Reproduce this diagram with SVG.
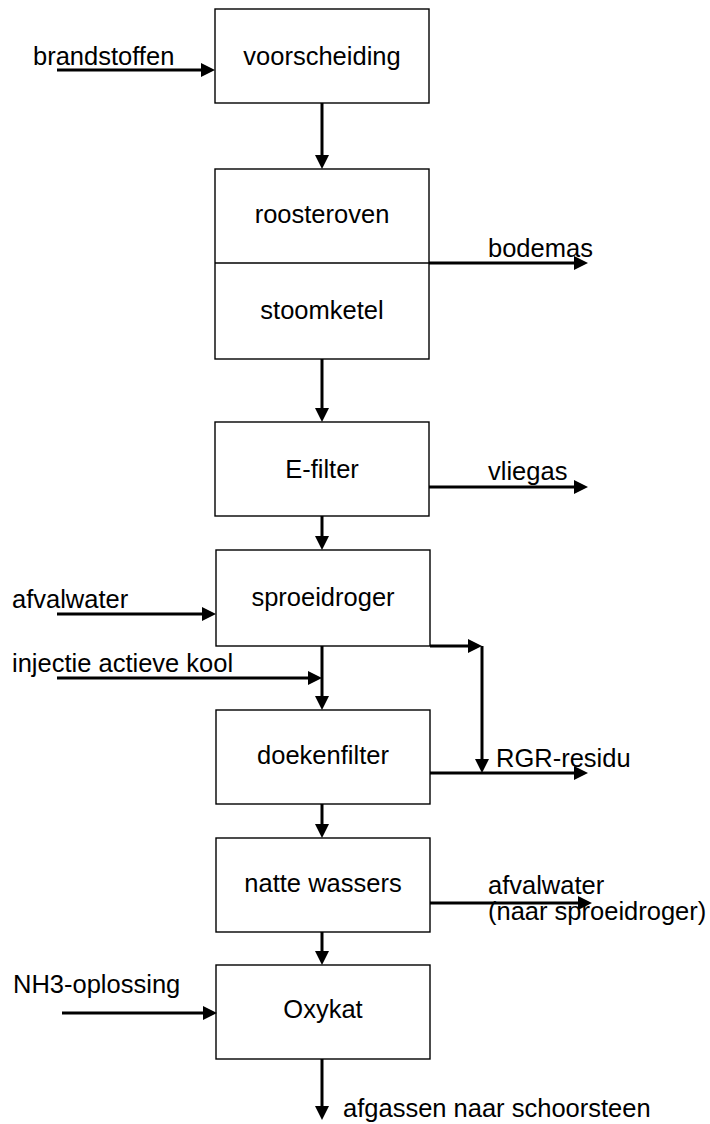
<svg xmlns="http://www.w3.org/2000/svg" width="710" height="1124" viewBox="0 0 710 1124">
<style>
  .box { fill: #ffffff; stroke: #000000; stroke-width: 1.4; }
  .lbl { font-family: "Liberation Sans", Arial, sans-serif; font-size: 25.5px; fill: #000000; }
  .mid { text-anchor: middle; }
  .con { fill: none; stroke: #000000; stroke-width: 3; stroke-linecap: butt; }
</style>
<defs>
  <marker id="ah" viewBox="0 0 14 14" markerUnits="userSpaceOnUse" markerWidth="14" markerHeight="14" refX="9" refY="7" orient="auto">
    <path d="M0,0 L14,7 L0,14 z" fill="#000000"/>
  </marker>
</defs>
<rect width="710" height="1124" fill="#ffffff"/>

<g id="voorscheiding">
  <rect class="box" x="215" y="9" width="214" height="94"/>
  <text class="lbl mid" x="322" y="65">voorscheiding</text>
</g>
<g id="roosteroven-stoomketel">
  <rect class="box" x="215" y="169" width="214" height="190"/>
  <line x1="215" y1="263" x2="429" y2="263" stroke="#000" stroke-width="1.4"/>
  <text class="lbl mid" x="322" y="223">roosteroven</text>
  <text class="lbl mid" x="322" y="319">stoomketel</text>
</g>
<g id="e-filter">
  <rect class="box" x="215" y="422" width="214" height="94"/>
  <text class="lbl mid" x="322" y="478">E-filter</text>
</g>
<g id="sproeidroger">
  <rect class="box" x="216" y="550" width="214" height="96"/>
  <text class="lbl mid" x="323" y="606">sproeidroger</text>
</g>
<g id="doekenfilter">
  <rect class="box" x="216" y="710" width="214" height="94"/>
  <text class="lbl mid" x="323" y="764">doekenfilter</text>
</g>
<g id="natte-wassers">
  <rect class="box" x="216" y="838" width="214" height="94"/>
  <text class="lbl mid" x="323" y="892">natte wassers</text>
</g>
<g id="oxykat">
  <rect class="box" x="216" y="965" width="214" height="94"/>
  <text class="lbl mid" x="323" y="1018">Oxykat</text>
</g>

<g id="labels">
  <text class="lbl" x="33" y="65">brandstoffen</text>
  <text class="lbl" x="488" y="257">bodemas</text>
  <text class="lbl" x="488" y="480">vliegas</text>
  <text class="lbl" x="12" y="608">afvalwater</text>
  <text class="lbl" x="12" y="672">injectie actieve kool</text>
  <text class="lbl" x="496" y="767">RGR-residu</text>
  <text class="lbl" x="488" y="894">afvalwater</text>
  <text class="lbl" x="488" y="920">(naar sproeidroger)</text>
  <text class="lbl" x="13" y="993">NH3-oplossing</text>
  <text class="lbl" x="343" y="1117">afgassen naar schoorsteen</text>
</g>

<g id="connectors">
  <line class="con" x1="57" y1="70" x2="210" y2="70" marker-end="url(#ah)"/>
  <line class="con" x1="322" y1="103" x2="322" y2="164" marker-end="url(#ah)"/>
  <line class="con" x1="429" y1="263" x2="583" y2="263" marker-end="url(#ah)"/>
  <line class="con" x1="322" y1="359" x2="322" y2="417" marker-end="url(#ah)"/>
  <line class="con" x1="429" y1="487" x2="583" y2="487" marker-end="url(#ah)"/>
  <line class="con" x1="322" y1="516" x2="322" y2="545" marker-end="url(#ah)"/>
  <line class="con" x1="57" y1="614" x2="211" y2="614" marker-end="url(#ah)"/>
  <line class="con" x1="57" y1="678" x2="317" y2="678" marker-end="url(#ah)"/>
  <line class="con" x1="322" y1="646" x2="322" y2="705" marker-end="url(#ah)"/>
  <line class="con" x1="430" y1="646" x2="477" y2="646" marker-end="url(#ah)"/>
  <line class="con" x1="482" y1="646" x2="482" y2="768" marker-end="url(#ah)"/>
  <line class="con" x1="430" y1="773" x2="583" y2="773" marker-end="url(#ah)"/>
  <line class="con" x1="322" y1="804" x2="322" y2="833" marker-end="url(#ah)"/>
  <line class="con" x1="430" y1="903" x2="587" y2="903" marker-end="url(#ah)"/>
  <line class="con" x1="322" y1="932" x2="322" y2="960" marker-end="url(#ah)"/>
  <line class="con" x1="62" y1="1013" x2="212" y2="1013" marker-end="url(#ah)"/>
  <line class="con" x1="322" y1="1059" x2="322" y2="1115" marker-end="url(#ah)"/>
</g>
</svg>
